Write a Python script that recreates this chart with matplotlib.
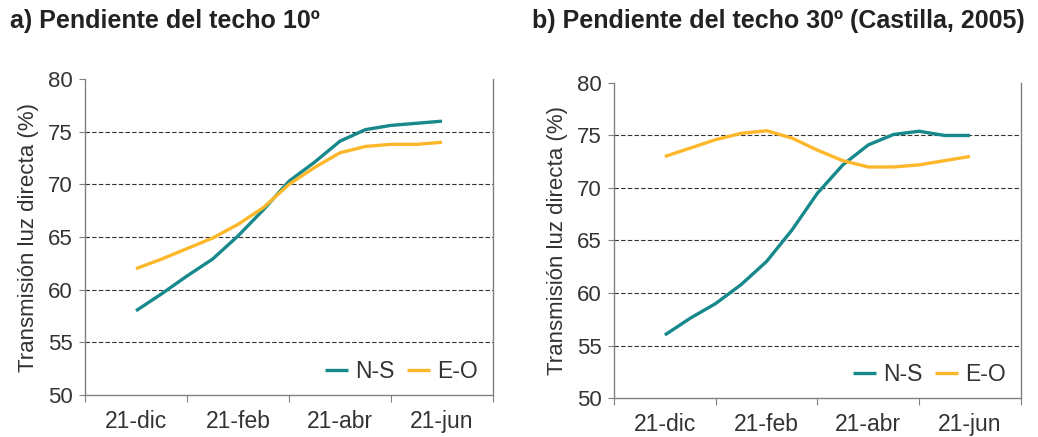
import matplotlib
matplotlib.use("Agg")
import matplotlib.pyplot as plt
from matplotlib.ticker import FixedLocator, NullFormatter, FixedFormatter

plt.rcParams['font.family'] = ['Liberation Sans', 'DejaVu Sans']

# positions along the axis (category units, 4 groups)
x_pos = [0.5, 0.75, 1.0, 1.25, 1.5, 1.75, 2.0, 2.25, 2.5, 2.75, 3.0, 3.25, 3.5]
month_labels = ['21-dic', '21-feb', '21-abr', '21-jun']

# a) roof slope 10
ns_10 = [58.0, 59.6, 61.3, 62.9, 65.1, 67.6, 70.3, 72.1, 74.1, 75.2, 75.6, 75.8, 76.0]
eo_10 = [62.0, 62.9, 63.9, 64.9, 66.2, 67.8, 70.0, 71.6, 73.0, 73.6, 73.8, 73.8, 74.0]

# b) roof slope 30
ns_30 = [56.0, 57.6, 59.0, 60.8, 63.0, 66.0, 69.5, 72.2, 74.1, 75.1, 75.4, 75.0, 75.0]
eo_30 = [73.0, 73.8, 74.6, 75.2, 75.45, 74.75, 73.6, 72.6, 72.0, 72.0, 72.2, 72.6, 73.0]

titles = ['a) Pendiente del techo 10º', 'b) Pendiente del techo 30º (Castilla, 2005)']
teal = '#17898c'
orange = '#fdb72a'
spine_col = '#808080'
txt_col = '#333333'

fig = plt.figure(figsize=(10.38, 4.37), dpi=100)
ax1 = fig.add_axes([0.0819, 0.0961, 0.393, 0.723])
ax2 = fig.add_axes([0.5915, 0.0892, 0.392, 0.721])

for ax, ns, eo in [(ax1, ns_10, eo_10), (ax2, ns_30, eo_30)]:
    ax.plot(x_pos, ns, color=teal, lw=2.4, label='N-S', solid_capstyle='butt')
    ax.plot(x_pos, eo, color=orange, lw=2.4, label='E-O', solid_capstyle='butt')
    ax.set_xlim(0, 4)
    ax.set_ylim(50, 80)
    ax.set_yticks(range(50, 81, 5))
    ax.xaxis.set_major_locator(FixedLocator([0, 1, 2, 3, 4]))
    ax.xaxis.set_major_formatter(NullFormatter())
    ax.xaxis.set_minor_locator(FixedLocator([0.5, 1.5, 2.5, 3.5]))
    ax.xaxis.set_minor_formatter(FixedFormatter(month_labels))
    ax.tick_params(axis='x', which='major', length=5, color=spine_col, direction='out')
    ax.tick_params(axis='x', which='minor', length=0, pad=11, labelsize=16.5, labelcolor=txt_col)
    ax.tick_params(axis='y', length=4, color=spine_col, pad=5, labelsize=16, labelcolor=txt_col)
    ax.yaxis.grid(True, linestyle=(0, (4, 2)), color='#333333', lw=0.8)
    ax.get_ygridlines()[-1].set_visible(False)
    ax.get_ygridlines()[0].set_visible(False)
    ax.set_axisbelow(True)
    ax.spines['top'].set_visible(False)
    for s in ['left', 'right', 'bottom']:
        ax.spines[s].set_color(spine_col)
        ax.spines[s].set_linewidth(1.0)
    ax.set_ylabel('Transmisión luz directa (%)', fontsize=16, color=txt_col, labelpad=6)
    ax.legend(loc='lower right', bbox_to_anchor=(0.985, 0.01), borderaxespad=0, ncol=2,
              frameon=False, fontsize=16.5, handlelength=1.0, handletextpad=0.3,
              columnspacing=0.55, labelcolor=txt_col)

fig.text(0.0096, 0.953, titles[0], fontsize=18, fontweight='bold', color='#222222', va='center')
fig.text(0.513, 0.953, titles[1], fontsize=18, fontweight='bold', color='#222222', va='center')

fig.savefig('out.png', dpi=100)
